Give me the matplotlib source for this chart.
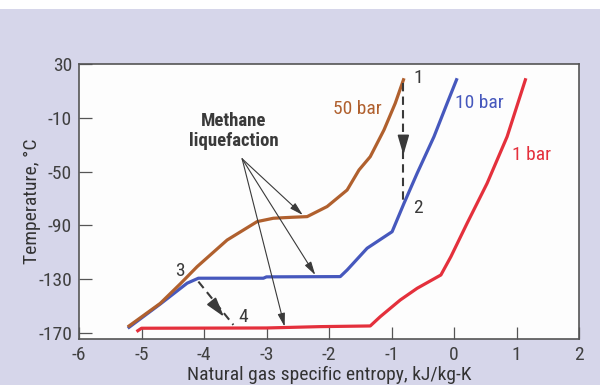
import matplotlib
matplotlib.use("Agg")
import matplotlib.pyplot as plt
from matplotlib import font_manager
from matplotlib.patches import Rectangle

# entropy (kJ/kg-K) and temperature (C)
s_50 = [-5.22, -4.70, -4.38, -4.11, -3.63, -3.15, -2.89, -2.60, -2.35, -2.03,
        -1.71, -1.52, -1.34, -1.12, -0.94, -0.80]
t_50 = [-165.5, -148.0, -133.5, -120.7, -100.9, -87.2, -84.7, -84.0, -83.5, -76.0,
        -63.7, -48.8, -38.9, -19.0, 0.8, 19.4]

s_10 = [-5.22, -4.70, -4.27, -4.09, -3.05, -3.00, -1.82, -1.71, -1.39, -0.99,
        -0.80, -0.59, -0.32, -0.11, 0.05]
t_10 = [-166.5, -148.5, -133.0, -129.3, -129.3, -128.3, -128.1, -123.2, -107.0, -94.7,
        -73.6, -51.3, -24.0, 0.8, 19.4]

s_1 = [-5.08, -5.00, -3.00, -2.14, -1.34, -1.18, -0.86, -0.59, -0.21, -0.05,
       0.21, 0.53, 0.85, 1.15]
t_1 = [-169.0, -166.5, -166.3, -165.3, -164.8, -157.9, -145.5, -136.8, -126.9, -113.3,
       -88.4, -58.7, -24.0, 19.4]

x_ticks = [-6, -5, -4, -3, -2, -1, 0, 1, 2]
y_ticks = [30, -10, -50, -90, -130, -170]

# process steps 1->2 and 3->4
step12_s = [-0.81, -0.81]
step12_t = [15.6, -73.6]
step34_s = [-4.09, -3.53]
step34_t = [-131.8, -164.0]

# where the "Methane liquefaction" pointers end
liq_s = [-2.42, -2.22, -2.71]
liq_t = [-82.3, -126.9, -165.3]

BROWN = "#b0602e"
BLUE = "#4658bd"
RED = "#e4303c"
INK = "#3a3a3a"

# narrow sans if there is one, otherwise Arial-like
have = {f.name for f in font_manager.fontManager.ttflist}
narrow = [n for n in ["Liberation Sans Narrow", "Roboto Condensed", "Arial Narrow",
                      "Open Sans Condensed", "Liberation Sans"] if n in have]
plt.rcParams["font.family"] = narrow[:1] + ["DejaVu Sans"]
plt.rcParams["axes.unicode_minus"] = False
is_narrow = narrow and narrow[0] != "Liberation Sans"
FS = 14 if is_narrow else 12

fig = plt.figure(figsize=(6.0, 3.85), dpi=100, facecolor="#d6d6ea")
fig.patches.append(Rectangle((0, 1 - 9 / 385), 1, 9 / 385, transform=fig.transFigure,
                             facecolor="white", edgecolor="none", zorder=0))
ax = fig.add_axes([79 / 600, 1 - 339 / 385, 500 / 600, 275 / 385])
ax.set_facecolor("#fdfdfd")

ax.plot(s_10, t_10, color=BLUE, lw=2.3, solid_capstyle="butt", zorder=3)
ax.plot(s_50, t_50, color=BROWN, lw=2.3, solid_capstyle="butt", zorder=4)
ax.plot(s_1, t_1, color=RED, lw=2.3, solid_capstyle="butt", zorder=3)

ax.set_xlim(-6, 2)
ax.set_ylim(-174.5, 30)
ax.set_xticks(x_ticks)
ax.set_yticks(y_ticks)
ax.tick_params(direction="in", length=9, width=0.9, color="#555555",
               labelsize=FS, labelcolor="#404040", pad=5)
for sp in ax.spines.values():
    sp.set_color("#555555")
    sp.set_linewidth(1.2)

ax.set_xlabel("Natural gas specific entropy, kJ/kg-K", fontsize=FS, color="#333333", va="center")
ax.xaxis.set_label_coords(0.5, -(375 - 339) / 275)
ax.set_ylabel("Temperature, \u00b0C", fontsize=FS, color="#333333", va="center")
ax.yaxis.set_label_coords((32 - 79) / 500, 0.5)

# dashed step arrows
ax.plot(step12_s, step12_t, color=INK, lw=1.5, ls=(0, (4, 2.5)), zorder=5)
ax.annotate("", xy=(step12_s[0], -37.7), xytext=(step12_s[0], -25),
            arrowprops=dict(arrowstyle="-|>,head_length=1.2,head_width=0.35",
                            color=INK, lw=1.2, shrinkA=0, shrinkB=0), zorder=6)
ax.plot(step34_s, step34_t, color=INK, lw=1.5, ls=(0, (4, 2.5)), zorder=5)
ax.annotate("", xy=(-3.68, -158.0), xytext=(-3.83, -149.3),
            arrowprops=dict(arrowstyle="-|>,head_length=1.2,head_width=0.35",
                            color=INK, lw=1.2, shrinkA=0, shrinkB=0), zorder=6)

# methane liquefaction pointers
for s, t in zip(liq_s, liq_t):
    ax.annotate("", xy=(s, t), xytext=(-3.39, -40.5),
                arrowprops=dict(arrowstyle="-|>,head_length=0.8,head_width=0.22",
                                color=INK, lw=0.8, shrinkA=0, shrinkB=0), zorder=6)
ax.text(-3.52, -19.5, "Methane\nliquefaction", fontsize=FS - 0.5, fontweight="bold",
        color="#3a3a3a", ha="center", va="center", linespacing=1.15)

ax.text(-1.55, -3.5, "50 bar", color=BROWN, fontsize=FS, ha="center", va="center")
ax.text(0.40, 0.8, "10 bar", color=BLUE, fontsize=FS, ha="center", va="center")
ax.text(1.24, -37.7, "1 bar", color=RED, fontsize=FS, ha="center", va="center")

ax.text(-0.57, 19.8, "1", color=INK, fontsize=FS, ha="center", va="center")
ax.text(-0.57, -77.3, "2", color=INK, fontsize=FS, ha="center", va="center")
ax.text(-4.38, -123.7, "3", color=INK, fontsize=FS, ha="center", va="center")
ax.text(-3.37, -157.9, "4", color=INK, fontsize=FS, ha="center", va="center")

fig.savefig("out.png", dpi=100, facecolor=fig.get_facecolor())
